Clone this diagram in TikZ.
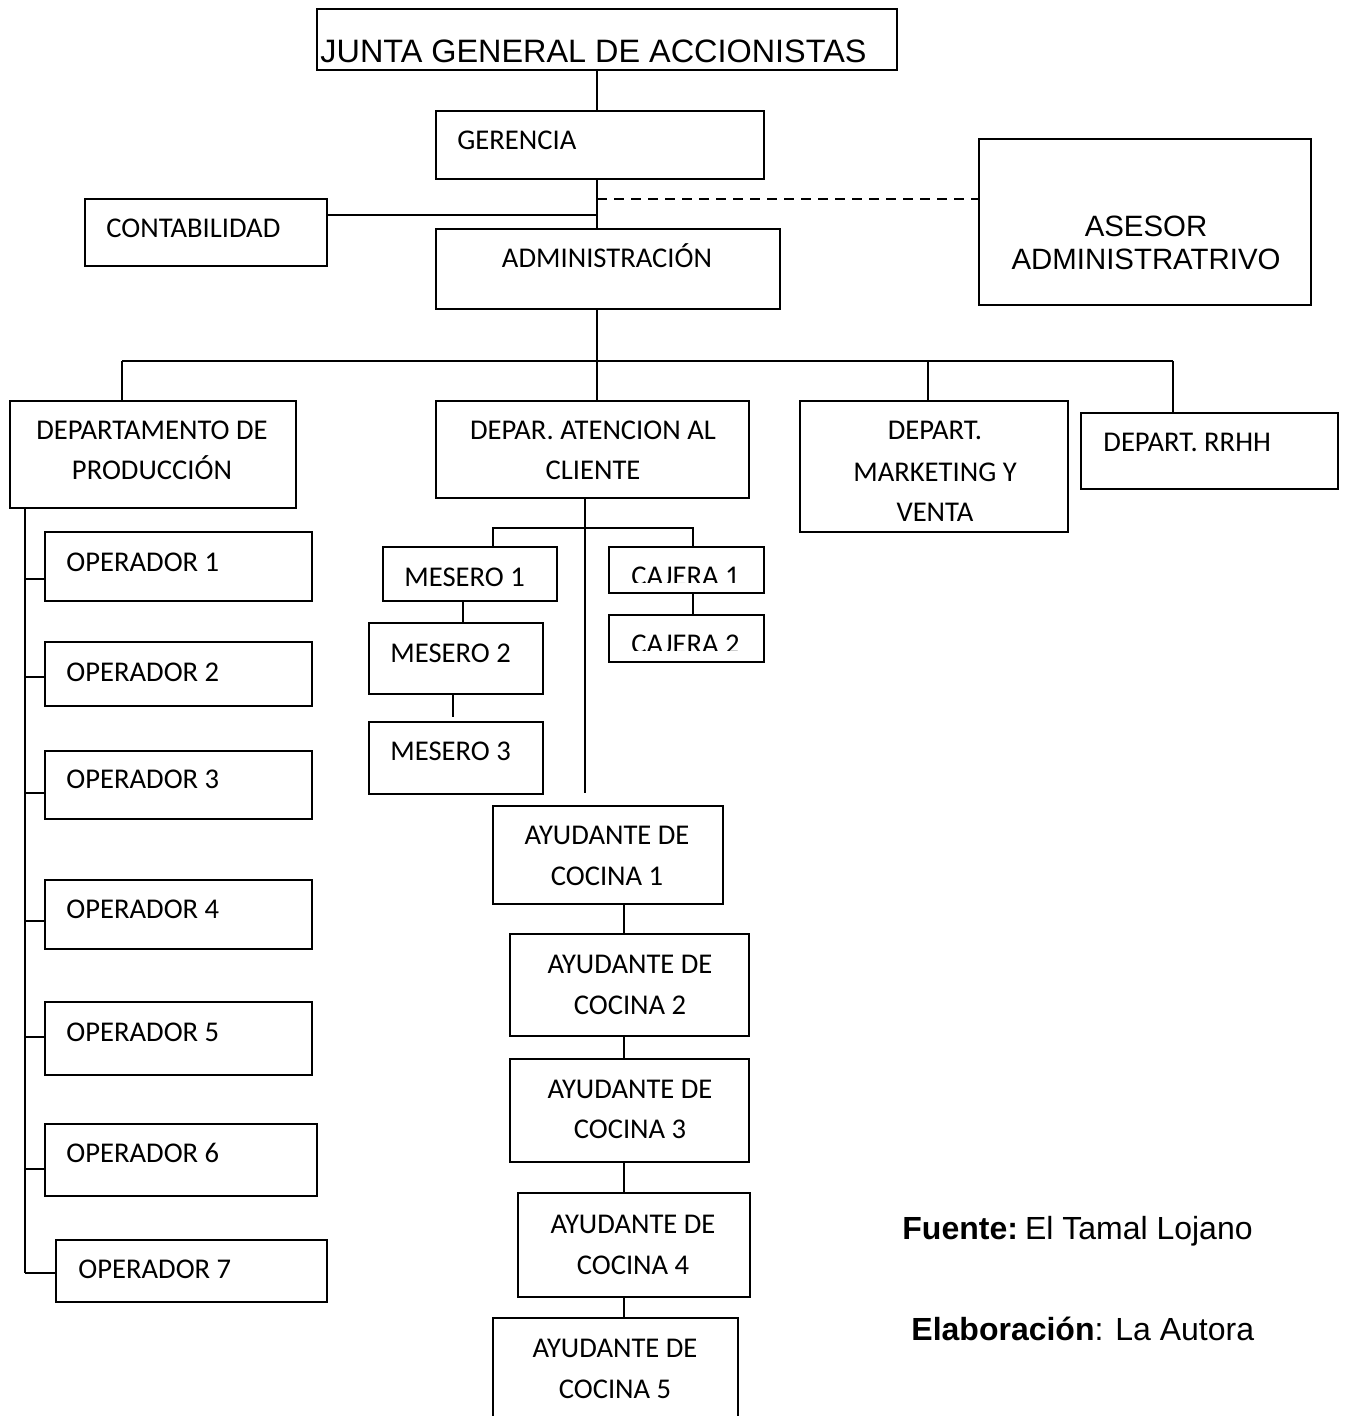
\documentclass[tikz,border=0pt]{standalone}
\usepackage{fontspec}
\setmainfont{Carlito}
\newfontfamily\arialf{Liberation Sans}
\usetikzlibrary{fit}
\tikzset{
  box/.style={draw, line width=1pt, rectangle, inner sep=0pt},
  txt/.style={inner sep=0pt, font=\fontsize{14.3}{17}\selectfont},
  bigtxt/.style={inner sep=0pt, font=\arialf\fontsize{16.2}{19}\selectfont},
  srctxt/.style={inner sep=0pt, font=\arialf\fontsize{16}{19}\selectfont},
  arltxt/.style={inner sep=0pt, font=\arialf\fontsize{14.7}{18}\selectfont},
  link/.style={line width=1pt},
  dlink/.style={line width=1pt, dash pattern=on 5pt off 3.5pt},
}
\begin{document}
\begin{tikzpicture}[x=0.5pt,y=-0.5pt]
\useasboundingbox (0,0) rectangle (1344,1416);

% ---------- boxes ----------
\node[box, fit={(317,9) (897,70)}]    (junta) {};
\node[box, fit={(436,111) (764,179)}] (ger) {};
\node[box, fit={(85,199) (327,266)}]  (cont) {};
\node[box, fit={(436,229) (780,309)}] (adm) {};
\node[box, fit={(979,139) (1311,305)}] (ase) {};

\node[box, fit={(10,401) (296,508)}]   (prod) {};
\node[box, fit={(436,401) (749,498)}]  (ate) {};
\node[box, fit={(800,401) (1068,532)}] (mkt) {};
\node[box, fit={(1081,413) (1338,489)}] (rrhh) {};

\node[box, fit={(45,532) (312,601)}]   (op1) {};
\node[box, fit={(45,642) (312,706)}]   (op2) {};
\node[box, fit={(45,751) (312,819)}]   (op3) {};
\node[box, fit={(45,880) (312,949)}]   (op4) {};
\node[box, fit={(45,1002) (312,1075)}] (op5) {};
\node[box, fit={(45,1124) (317,1196)}] (op6) {};
\node[box, fit={(56,1240) (327,1302)}] (op7) {};

\node[box, fit={(383,547) (557,601)}] (mes1) {};
\node[box, fit={(369,623) (543,694)}] (mes2) {};
\node[box, fit={(369,722) (543,794)}] (mes3) {};
\node[box, fit={(609,547) (764,593)}] (caj1) {};
\node[box, fit={(609,615) (764,662)}] (caj2) {};

\node[box, fit={(493,806) (723,904)}]   (ay1) {};
\node[box, fit={(510,934) (749,1036)}]  (ay2) {};
\node[box, fit={(510,1059) (749,1162)}] (ay3) {};
\node[box, fit={(518,1193) (750,1297)}] (ay4) {};
\node[box, fit={(493,1318) (738,1440)}] (ay5) {};

% ---------- labels ----------
\node[bigtxt, anchor=base west] (junta-t) at (320,63) {JUNTA GENERAL DE ACCIONISTAS};
\node[txt, anchor=base west] (ger-t) at (457,150) {GERENCIA};
\node[txt, anchor=base west] (cont-t) at (106,238) {CONTABILIDAD};
\node[txt, anchor=base] (adm-t) at (607,268) {ADMINISTRACIÓN};
\node[arltxt, anchor=base] (ase-t1) at (1146,237) {ASESOR};
\node[arltxt, anchor=base] (ase-t2) at (1146,270) {ADMINISTRATRIVO};

\node[txt, anchor=base] (prod-t1) at (152,440) {DEPARTAMENTO DE};
\node[txt, anchor=base] (prod-t2) at (152,480) {PRODUCCIÓN};
\node[txt, anchor=base] (ate-t1) at (593,440) {DEPAR. ATENCION AL};
\node[txt, anchor=base] (ate-t2) at (593,480) {CLIENTE};
\node[txt, anchor=base] (mkt-t1) at (935,440) {DEPART.};
\node[txt, anchor=base] (mkt-t2) at (935,481) {MARKETING Y};
\node[txt, anchor=base] (mkt-t3) at (935,522) {VENTA};
\node[txt, anchor=base west] (rrhh-t) at (1103,452) {DEPART. RRHH};

\node[txt, anchor=base west] (op1-t) at (66,571)  {OPERADOR 1};
\node[txt, anchor=base west] (op2-t) at (66,681)  {OPERADOR 2};
\node[txt, anchor=base west] (op3-t) at (66,788)  {OPERADOR 3};
\node[txt, anchor=base west] (op4-t) at (66,918)  {OPERADOR 4};
\node[txt, anchor=base west] (op5-t) at (66,1041) {OPERADOR 5};
\node[txt, anchor=base west] (op6-t) at (66,1162) {OPERADOR 6};
\node[txt, anchor=base west] (op7-t) at (78,1278) {OPERADOR 7};

\node[txt, anchor=base west] (mes1-t) at (404,586) {MESERO 1};
\node[txt, anchor=base west] (mes2-t) at (390,662) {MESERO 2};
\node[txt, anchor=base west] (mes3-t) at (390,760) {MESERO 3};

% the cashier labels sit low in their boxes and lose their lower edge
\begin{scope}
  \clip (609,547) rectangle (764,582);
  \node[txt, anchor=base west] (caj1-t) at (631,585.5) {CAJERA 1};
\end{scope}
\begin{scope}
  \clip (609,615) rectangle (764,650);
  \node[txt, anchor=base west] (caj2-t) at (631,653.5) {CAJERA 2};
\end{scope}

\node[txt, anchor=base] (ay1-t1) at (607,844)  {AYUDANTE DE};
\node[txt, anchor=base] (ay1-t2) at (607,885)  {COCINA 1};
\node[txt, anchor=base] (ay2-t1) at (630,973)  {AYUDANTE DE};
\node[txt, anchor=base] (ay2-t2) at (630,1014) {COCINA 2};
\node[txt, anchor=base] (ay3-t1) at (630,1098) {AYUDANTE DE};
\node[txt, anchor=base] (ay3-t2) at (630,1138) {COCINA 3};
\node[txt, anchor=base] (ay4-t1) at (633,1233) {AYUDANTE DE};
\node[txt, anchor=base] (ay4-t2) at (633,1274) {COCINA 4};
\node[txt, anchor=base] (ay5-t1) at (615,1357) {AYUDANTE DE};
\node[txt, anchor=base] (ay5-t2) at (615,1398) {COCINA 5};

\node[srctxt, anchor=base west] (fuente) at (902,1239) {\textbf{Fuente:}\hspace{0.22em}El Tamal Lojano};
\node[srctxt, anchor=base west] (elab) at (911,1340) {\textbf{Elaboración}: La Autora};

% ---------- connectors ----------
\coordinate (sp) at (597,0);
\coordinate (dsh) at (0,199);
\coordinate (cty) at (0,215);
\draw[link] (sp |- junta.south) -- (sp |- ger.north);
\draw[link] (sp |- ger.south) -- (sp |- adm.north);
\draw[dlink] (sp |- dsh) -- (ase.west |- dsh);
\draw[link] (cont.east |- cty) -- (sp |- cty);

% department bus
\coordinate (b1) at (122,361);
\coordinate (b2) at (597,361);
\coordinate (b3) at (928,361);
\coordinate (b4) at (1173,361);
\draw[link] (sp |- adm.south) -- (b2);
\draw[link] (b1) -- (b4);
\draw[link] (b1) -- (b1 |- prod.north);
\draw[link] (b2) -- (b2 |- ate.north);
\draw[link] (b3) -- (b3 |- mkt.north);
\draw[link] (b4) -- (b4 |- rrhh.north);

% production line
\coordinate (ps) at (25,0);
\coordinate (tk1) at (25,579);
\coordinate (tk2) at (25,677);
\coordinate (tk3) at (25,793);
\coordinate (tk4) at (25,921);
\coordinate (tk5) at (25,1037);
\coordinate (tk6) at (25,1169);
\coordinate (tk7) at (25,1273);
\draw[link] (ps |- prod.south) -- (tk7);
\foreach \i in {1,...,7} {
  \draw[link] (tk\i) -- (op\i.west |- tk\i);
}

% customer service branch
\coordinate (as) at (585,0);
\coordinate (aend) at (585,793);
\coordinate (m0) at (493,528);
\coordinate (c0) at (693,528);
\draw[link] (as |- ate.south) -- (aend);
\draw[link] (m0 |- mes1.north) -- (m0) -- (c0) -- (c0 |- caj1.north);
\coordinate (mx1) at (463,0);
\coordinate (mx2) at (453,0);
\coordinate (mgap) at (453,717);
\draw[link] (mx1 |- mes1.south) -- (mx1 |- mes2.north);
\draw[link] (mx2 |- mes2.south) -- (mgap);
\draw[link] (c0 |- caj1.south) -- (c0 |- caj2.north);

% kitchen chain
\coordinate (ay) at (624,0);
\draw[link] (ay |- ay1.south) -- (ay |- ay2.north);
\draw[link] (ay |- ay2.south) -- (ay |- ay3.north);
\draw[link] (ay |- ay3.south) -- (ay |- ay4.north);
\draw[link] (ay |- ay4.south) -- (ay |- ay5.north);
\end{tikzpicture}
\end{document}
